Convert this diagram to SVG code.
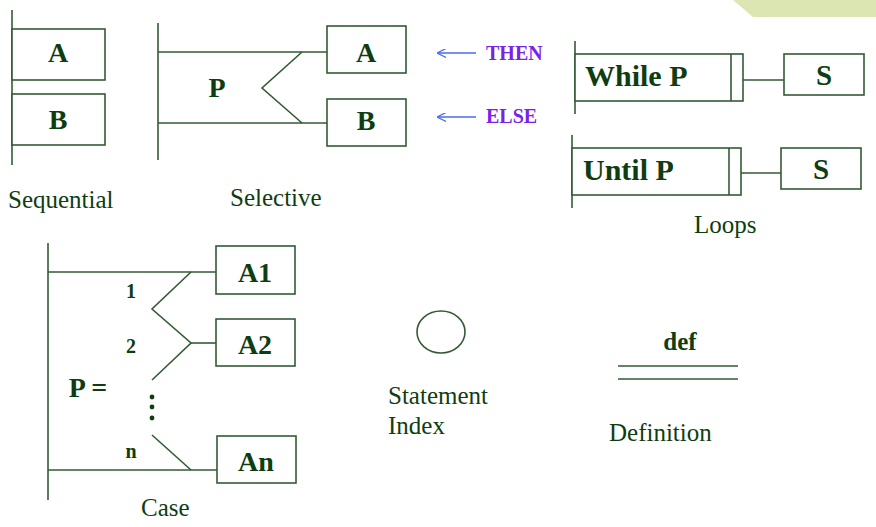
<svg xmlns="http://www.w3.org/2000/svg" width="876" height="527" viewBox="0 0 876 527">
<defs>
<marker id="ah" viewBox="0 0 10 10" refX="9" refY="5" markerWidth="9" markerHeight="9" orient="auto" markerUnits="userSpaceOnUse">
<path d="M0,0 L10,5 L0,10" fill="none" stroke="#4a6ee8" stroke-width="1.4"/>
</marker>
</defs>
<rect width="876" height="527" fill="#fff"/>
<polygon points="733,0 876,0 876,17 753,17" fill="#dce6b2"/>

<g id="connectors" stroke="#345a34" stroke-width="1.6" fill="none">
<line x1="12" y1="10" x2="12" y2="165"/>
<line x1="158" y1="23" x2="158" y2="160"/>
<polyline points="158,52 327,52"/>
<polyline points="158,123 327,123"/>
<polyline points="302,52 262,88 302,123"/>
<line x1="476" y1="53" x2="438" y2="53" stroke="#4a6ee8" stroke-width="1.4" marker-end="url(#ah)"/>
<line x1="476" y1="117" x2="438" y2="117" stroke="#4a6ee8" stroke-width="1.4" marker-end="url(#ah)"/>
<line x1="575" y1="41" x2="575" y2="114"/>
<line x1="743" y1="80" x2="784" y2="80"/>
<line x1="572" y1="135" x2="572" y2="208"/>
<line x1="741" y1="173" x2="781" y2="173"/>
<line x1="48" y1="243" x2="48" y2="500"/>
<line x1="48" y1="272" x2="216" y2="272"/>
<line x1="48" y1="470" x2="217" y2="470"/>
<polyline points="191,272 152,309 191,343 152,380"/>
<line x1="191" y1="343" x2="216" y2="343"/>
<line x1="152" y1="435" x2="191" y2="470"/>
<line x1="618" y1="366" x2="738" y2="366"/>
<line x1="618" y1="379" x2="738" y2="379"/>
</g>

<g stroke="#345a34" stroke-width="1.6" fill="#fff">
<g id="seqA"><rect x="12" y="29" width="93" height="51"/></g>
<g id="seqB"><rect x="12" y="94" width="93" height="51"/></g>
<g id="selA"><rect x="327" y="26" width="79" height="47"/></g>
<g id="selB"><rect x="327" y="99" width="79" height="47"/></g>
<g id="whileP"><rect x="575" y="54" width="168" height="47"/><line x1="731" y1="54" x2="731" y2="101"/></g>
<g id="whileS"><rect x="784" y="54" width="80" height="41"/></g>
<g id="untilP"><rect x="572" y="148" width="169" height="47"/><line x1="729" y1="148" x2="729" y2="195"/></g>
<g id="untilS"><rect x="781" y="148" width="80" height="41"/></g>
<g id="caseA1"><rect x="216" y="246" width="79" height="48"/></g>
<g id="caseA2"><rect x="216" y="319" width="79" height="47"/></g>
<g id="caseAn"><rect x="217" y="436" width="79" height="47"/></g>
<g id="stmtIndex"><ellipse cx="441" cy="332" rx="24" ry="21" fill="none"/></g>
</g>

<g id="dots" fill="#0f3d12"><circle cx="152" cy="397" r="2.4"/><circle cx="152" cy="407" r="2.4"/><circle cx="152" cy="418" r="2.4"/></g>

<g id="labels" fill="#0f3d12">
<text style="font-family:'Liberation Serif',serif" font-weight="bold" font-size="28" text-anchor="middle" x="58" y="62">A</text>
<text style="font-family:'Liberation Serif',serif" font-weight="bold" font-size="28" text-anchor="middle" x="58" y="129">B</text>
<text style="font-family:'Liberation Serif',serif" font-size="25" x="8" y="208">Sequential</text>
<text style="font-family:'Liberation Serif',serif" font-weight="bold" font-size="28" text-anchor="middle" x="217" y="97">P</text>
<text style="font-family:'Liberation Serif',serif" font-weight="bold" font-size="28" text-anchor="middle" x="366" y="62">A</text>
<text style="font-family:'Liberation Serif',serif" font-weight="bold" font-size="28" text-anchor="middle" x="366" y="130">B</text>
<text style="font-family:'Liberation Serif',serif" font-size="25" x="230" y="206">Selective</text>
<text style="font-family:'Liberation Serif',serif" font-weight="bold" font-size="20" fill="#7a22e8" x="486" y="60">THEN</text>
<text style="font-family:'Liberation Serif',serif" font-weight="bold" font-size="20" fill="#7a22e8" x="486" y="123">ELSE</text>
<text style="font-family:'Liberation Serif',serif" font-weight="bold" font-size="30" x="585" y="86">While P</text>
<text style="font-family:'Liberation Serif',serif" font-weight="bold" font-size="29" text-anchor="middle" x="824" y="85">S</text>
<text style="font-family:'Liberation Serif',serif" font-weight="bold" font-size="30" x="583" y="180">Until P</text>
<text style="font-family:'Liberation Serif',serif" font-weight="bold" font-size="29" text-anchor="middle" x="821" y="179">S</text>
<text style="font-family:'Liberation Serif',serif" font-size="25" x="694" y="233">Loops</text>
<text style="font-family:'Liberation Serif',serif" font-weight="bold" font-size="28" text-anchor="middle" x="88" y="397">P =</text>
<text style="font-family:'Liberation Serif',serif" font-weight="bold" font-size="28" text-anchor="middle" x="255" y="282">A1</text>
<text style="font-family:'Liberation Serif',serif" font-weight="bold" font-size="28" text-anchor="middle" x="255" y="354">A2</text>
<text style="font-family:'Liberation Serif',serif" font-weight="bold" font-size="28" text-anchor="middle" x="256" y="471">An</text>
<text style="font-family:'Liberation Serif',serif" font-weight="bold" font-size="20" text-anchor="middle" x="131" y="298">1</text>
<text style="font-family:'Liberation Serif',serif" font-weight="bold" font-size="20" text-anchor="middle" x="131" y="353">2</text>
<text style="font-family:'Liberation Serif',serif" font-weight="bold" font-size="20" text-anchor="middle" x="131" y="458">n</text>
<text style="font-family:'Liberation Serif',serif" font-size="25" x="141" y="516">Case</text>
<text style="font-family:'Liberation Serif',serif" font-size="25" x="388" y="404">Statement</text>
<text style="font-family:'Liberation Serif',serif" font-size="25" x="388" y="434">Index</text>
<text style="font-family:'Liberation Serif',serif" font-weight="bold" font-size="25" text-anchor="middle" x="680" y="350">def</text>
<text style="font-family:'Liberation Serif',serif" font-size="25" x="609" y="441">Definition</text>
</g>
</svg>
